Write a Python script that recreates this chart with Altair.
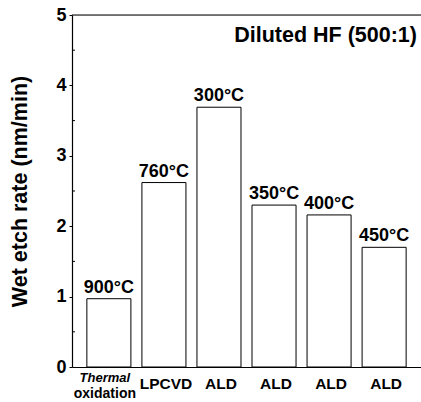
import altair as alt
import pandas as pd

categories = ["Thermal oxidation", "LPCVD", "ALD", "ALD", "ALD", "ALD"]
temps = ["900°C", "760°C", "300°C", "350°C", "400°C", "450°C"]
rates = [0.97, 2.62, 3.69, 2.30, 2.16, 1.70]
major_ticks = [0, 1, 2, 3, 4, 5]
minor_ticks = [0.5, 1.5, 2.5, 3.5, 4.5]
panel_title = ["Diluted HF (500:1)"]
y_title = "Wet etch rate (nm/min)"

df = pd.DataFrame({"key": temps, "cat": categories, "temp": temps, "rate": rates})
W, H = 349, 352
FONT = "Liberation Sans"

x = alt.X("key:N", sort=temps,
          scale=alt.Scale(paddingInner=0.2, paddingOuter=0.27),
          axis=alt.Axis(labels=False, ticks=False, title=None,
                        domainColor="black", domainWidth=1.2))
y = alt.Y("rate:Q", scale=alt.Scale(domain=[0, 5], nice=False, zero=True),
          axis=alt.Axis(values=major_ticks, format="d", labelFont=FONT,
                        labelFontWeight="bold", labelFontSize=18, labelColor="black",
                        tickColor="black", tickSize=3, labelPadding=3,
                        domainColor="black", domainWidth=1.2, grid=False,
                        title=y_title, titleFont=FONT, titleFontSize=21.5,
                        titleFontWeight="bold", titleColor="black", titlePadding=24))

base = alt.Chart(df)
bars = base.mark_bar(fill="white", stroke="black", strokeWidth=1).encode(x=x, y=y)
temp_labels = base.mark_text(font=FONT, fontWeight="bold", fontSize=18,
                             baseline="alphabetic", dy=-6, color="black").encode(
    x=x, y="rate:Q", text="temp:N")

cat_main = base.transform_filter("datum.cat != 'Thermal oxidation'").mark_text(
    font=FONT, fontWeight="bold", fontSize=15.5, baseline="middle", color="black", dx=2
).encode(x=x, y=alt.value(H + 17), text="cat:N")

thermal = base.transform_filter("datum.cat == 'Thermal oxidation'").transform_calculate(
    line1="split(datum.cat, ' ')[0]", line2="split(datum.cat, ' ')[1]")
th1 = thermal.mark_text(font=FONT, fontWeight="bold", fontStyle="italic", fontSize=13,
                        baseline="middle", color="black", dx=-4).encode(
    x=x, y=alt.value(H + 11), text="line1:N")
th2 = thermal.mark_text(font=FONT, fontWeight="bold", fontSize=14,
                        baseline="middle", color="black", dx=-4).encode(
    x=x, y=alt.value(H + 27), text="line2:N")

title = alt.Chart(pd.DataFrame({"t": panel_title})).mark_text(
    font=FONT, fontWeight="bold", fontSize=21.5, align="right", baseline="middle",
    color="black").encode(x=alt.value(W - 4), y=alt.value(21), text="t:N")

top_rule = alt.Chart(pd.DataFrame({"v": [5]})).mark_rule(color="black", strokeWidth=1.2).encode(
    y="v:Q", x=alt.value(0), x2=alt.value(W))
minor = alt.Chart(pd.DataFrame({"m": minor_ticks})).mark_rule(color="black").encode(
    y="m:Q", x=alt.value(0), x2=alt.value(3))

chart = alt.layer(bars, temp_labels, cat_main, th1, th2, title, top_rule, minor).properties(
    width=W, height=H,
    autosize=alt.AutoSizeParams(type="none"),
    padding={"left": 72, "top": 15, "right": 0, "bottom": 35},
).configure_view(stroke=None).configure(background="white")

chart.save("out.html", embed_options={"renderer": "svg", "actions": False})
